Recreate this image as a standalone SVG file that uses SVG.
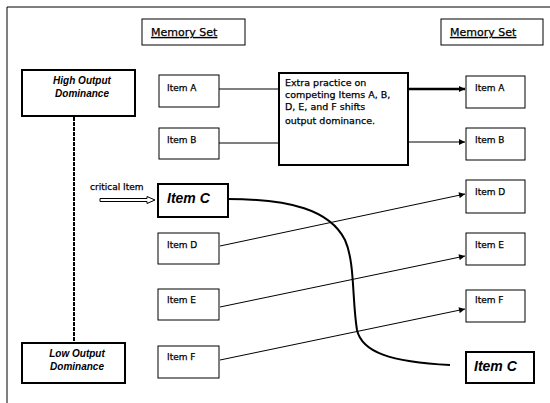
<svg xmlns="http://www.w3.org/2000/svg" width="550" height="403" viewBox="0 0 550 403">
<defs>
<style>
.t{font-family:"DejaVu Sans","Liberation Sans",sans-serif;font-size:9px;fill:#000;stroke:#000;stroke-width:0.25}
.p{font-family:"DejaVu Sans","Liberation Sans",sans-serif;font-size:9.5px;fill:#000;stroke:#000;stroke-width:0.25}
.h{font-family:"Liberation Sans",Arial,sans-serif;font-size:10px;font-weight:bold;font-style:italic;fill:#000}
.c{font-family:"Liberation Sans",Arial,sans-serif;font-size:14px;font-weight:bold;font-style:italic;fill:#000}
.m{font-family:"DejaVu Sans","Liberation Sans",sans-serif;font-size:11px;text-decoration:underline;fill:#000;stroke:#000;stroke-width:0.25}
.thin{fill:#fff;stroke:#000;stroke-width:1}
.thick{fill:#fff;stroke:#000;stroke-width:2}
.ln{fill:none;stroke:#000;stroke-width:1}
</style>
<marker id="ah" viewBox="0 0 10 10" refX="10" refY="5" markerWidth="8" markerHeight="6" markerUnits="userSpaceOnUse" orient="auto">
<path d="M0,0 L10,5 L0,10 z" fill="#000"/>
</marker>
</defs>
<rect width="550" height="403" fill="#fff"/>
<g id="frame">
<path d="M7,403 V7 H550" class="ln"/>
</g>
<g id="connectors">
<line x1="74" y1="117" x2="74" y2="342" stroke="#000" stroke-width="2" stroke-dasharray="4 1"/>
<line x1="219" y1="89" x2="279" y2="89" class="ln"/>
<line x1="219" y1="143" x2="279" y2="143" class="ln"/>
<line x1="408" y1="89" x2="465" y2="89" stroke="#000" stroke-width="2.5" marker-end="url(#ah)"/>
<line x1="408" y1="142" x2="465" y2="142" class="ln" marker-end="url(#ah)"/>
<line x1="220" y1="246" x2="465" y2="194" class="ln" stroke-width="1.5" marker-end="url(#ah)"/>
<line x1="220" y1="307" x2="465" y2="256" class="ln" stroke-width="1.5" marker-end="url(#ah)"/>
<line x1="220" y1="360" x2="465" y2="309" class="ln" stroke-width="1.5" marker-end="url(#ah)"/>
<path d="M228,199 C290,199 330,210 345,240 C355,262 352,300 357,330 C362,352 390,362 450,365" fill="none" stroke="#000" stroke-width="2"/>
<polygon points="100,198.5 147,198.5 147,196.5 155,200 147,203.5 147,201.5 100,201.5" fill="#fff" stroke="#000" stroke-width="1"/>
<text x="90" y="190" class="t">critical Item</text>
</g>
<g id="memset-left">
<rect x="142" y="19" width="103" height="26" class="thin"/>
<text x="151" y="36" class="m">Memory Set</text>
</g>
<g id="memset-right">
<rect x="441" y="19" width="102" height="26" class="thin"/>
<text x="450" y="36" class="m">Memory Set</text>
</g>
<g id="high">
<rect x="22" y="70" width="113" height="46" class="thick"/>
<text x="82" y="84" class="h" text-anchor="middle">High  Output</text>
<text x="82" y="97" class="h" text-anchor="middle">Dominance</text>
</g>
<g id="low">
<rect x="22" y="343" width="103" height="40" class="thick"/>
<text x="77" y="357" class="h" text-anchor="middle">Low  Output</text>
<text x="77" y="370" class="h" text-anchor="middle">Dominance</text>
</g>
<g id="practice">
<rect x="279" y="73" width="129" height="92" class="thick"/>
<text class="p"><tspan x="285" y="86">Extra practice on</tspan><tspan x="285" y="98">competing Items A, B,</tspan><tspan x="285" y="110">D, E, and F shifts</tspan><tspan x="285" y="124">output dominance.</tspan></text>
</g>
<g id="itemA-left"><rect x="159" y="75" width="60" height="32" class="thin"/><text x="167" y="91" class="t">Item A</text></g>
<g id="itemB-left"><rect x="159" y="128" width="60" height="31" class="thin"/><text x="167" y="143" class="t">Item B</text></g>
<g id="itemC-left"><rect x="158" y="184" width="70" height="33" class="thick"/><text x="167" y="203" class="c">Item  C</text></g>
<g id="itemD-left"><rect x="158" y="233" width="61" height="31" class="thin"/><text x="167" y="248" class="t">Item D</text></g>
<g id="itemE-left"><rect x="158" y="289" width="61" height="31" class="thin"/><text x="167" y="303" class="t">Item E</text></g>
<g id="itemF-left"><rect x="158" y="346" width="61" height="32" class="thin"/><text x="167" y="360" class="t">Item F</text></g>
<g id="itemA-right"><rect x="466" y="76" width="59" height="32" class="thin"/><text x="475" y="91" class="t">Item A</text></g>
<g id="itemB-right"><rect x="466" y="128" width="59" height="32" class="thin"/><text x="475" y="143" class="t">Item B</text></g>
<g id="itemD-right"><rect x="466" y="180" width="59" height="33" class="thin"/><text x="475" y="195" class="t">Item D</text></g>
<g id="itemE-right"><rect x="466" y="233" width="59" height="32" class="thin"/><text x="475" y="248" class="t">Item E</text></g>
<g id="itemF-right"><rect x="466" y="290" width="59" height="32" class="thin"/><text x="475" y="303" class="t">Item F</text></g>
<g id="itemC-right"><rect x="466" y="352" width="68" height="31" class="thick"/><text x="474" y="371" class="c">Item  C</text></g>
</svg>
